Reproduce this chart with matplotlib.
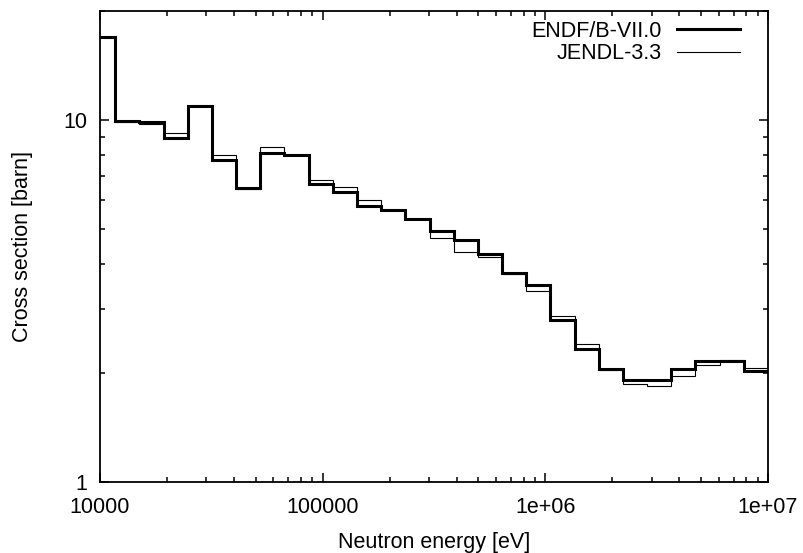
import matplotlib
matplotlib.use("Agg")
import matplotlib.pyplot as plt
from matplotlib.ticker import FixedLocator, FixedFormatter, LogLocator, NullFormatter

plt.rcParams['font.family'] = ['Liberation Sans', 'DejaVu Sans']

# Bin edges (eV): 0.25-lethargy group structure from 10 MeV down, first bin clipped at 1e4
edges = [1e4, 11709, 15034, 19305, 24788, 31828, 40868, 52475, 67379, 86517,
         111090, 142642, 183156, 235177, 301974, 387742, 497871, 639279, 820850,
         1053992, 1353353, 1737739, 2231302, 2865048, 3678794, 4723666, 6065307,
         7788008, 1e7]

endf = [17.0, 9.94, 9.85, 8.90, 10.93, 7.75, 6.49, 8.12, 8.02, 6.64, 6.32, 5.80,
        5.64, 5.33, 4.95, 4.66, 4.26, 3.79, 3.50, 2.81, 2.33, 2.05, 1.91, 1.91,
        2.05, 2.16, 2.16, 2.02]
jendl = [16.9, 9.90, 9.73, 9.19, 10.93, 7.99, 6.45, 8.44, 8.00, 6.83, 6.54, 6.00,
         5.64, 5.33, 4.71, 4.32, 4.19, 3.76, 3.37, 2.87, 2.41, 2.04, 1.87, 1.84,
         1.96, 2.11, 2.17, 2.07]

xticks = [1e4, 1e5, 1e6, 1e7]
xticklabels = ["10000", "100000", "1e+06", "1e+07"]
yticks = [1, 10]
yticklabels = ["1", "10"]

FS = 15.5

fig = plt.figure(figsize=(8.04, 5.53), dpi=100)
ax = fig.add_axes([100/804, 1-482/553, 668/804, 471/553])

ax.stairs(endf, edges, baseline=None, color='black', lw=2.2, label='ENDF/B-VII.0')
ax.stairs(jendl, edges, baseline=None, color='black', lw=0.8, label='JENDL-3.3')

ax.set_xscale('log')
ax.set_yscale('log')
ax.set_xlim(1e4, 1e7)
ax.set_ylim(1, 20)

ax.xaxis.set_major_locator(FixedLocator(xticks))
ax.xaxis.set_major_formatter(FixedFormatter(xticklabels))
ax.xaxis.set_minor_locator(LogLocator(base=10, subs=range(2, 10)))
ax.xaxis.set_minor_formatter(NullFormatter())
ax.yaxis.set_major_locator(FixedLocator(yticks))
ax.yaxis.set_major_formatter(FixedFormatter(yticklabels))
ax.yaxis.set_minor_locator(LogLocator(base=10, subs=range(2, 10)))
ax.yaxis.set_minor_formatter(NullFormatter())

ax.tick_params(which='both', direction='in', top=True, right=True, labelsize=FS, width=1.1)
ax.tick_params(axis='x', which='major', length=6.5, pad=11)
ax.tick_params(axis='y', which='major', length=6.5, pad=9)
ax.tick_params(which='minor', length=3.3)
for s in ax.spines.values():
    s.set_linewidth(1.3)

ax.set_xlabel('Neutron energy [eV]', fontsize=FS, labelpad=10)
ax.set_ylabel('Cross section [barn]', fontsize=FS, labelpad=22)

ax.legend(loc='upper right', markerfirst=False, frameon=False, fontsize=FS,
          handlelength=2.93, handletextpad=0.7, labelspacing=0.05,
          borderpad=0, borderaxespad=0,
          bbox_to_anchor=(740/804, 1-21/553), bbox_transform=fig.transFigure)

fig.savefig('out.png', dpi=100)
